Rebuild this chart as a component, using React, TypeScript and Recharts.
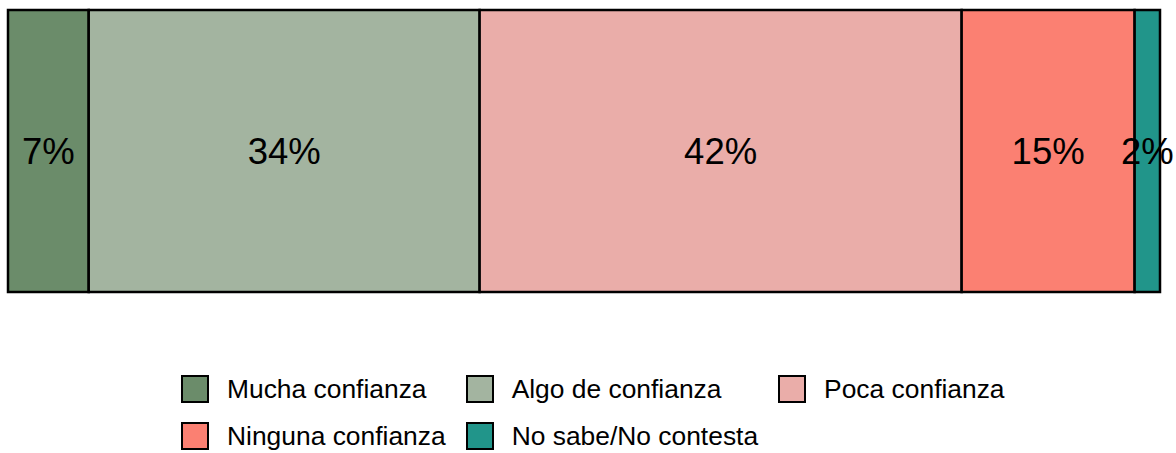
import { BarChart, Bar, XAxis, YAxis, LabelList } from "recharts";

const categories = [
  "Mucha confianza",
  "Algo de confianza",
  "Poca confianza",
  "Ninguna confianza",
  "No sabe/No contesta",
];
const values = [7.0, 33.9, 41.8, 15.0, 2.2];
const colors = ["#6b8c6a", "#a3b4a0", "#eaada9", "#fb8072", "#21958a"];

const total = values.reduce((s, v) => s + v, 0);

const chartData = [
  categories.reduce(
    (row, name, i) => ({ ...row, [name]: values[i] }),
    { name: "total" } as Record<string, string | number>
  ),
];

const FONT = "'Liberation Sans', Arial, sans-serif";

const LegendBox = () => (
  <div
    style={{
      position: "absolute",
      left: 181,
      top: 374,
      display: "grid",
      gridTemplateColumns: "auto auto auto",
      columnGap: 20,
      rowGap: 17,
      fontFamily: FONT,
      fontSize: 26.4,
      color: "#000",
    }}
  >
    {categories.map((name, i) => (
      <div key={name} style={{ display: "flex", alignItems: "center", height: 30 }}>
        <span
          style={{
            width: 24,
            height: 24,
            border: "2.5px solid #000",
            background: colors[i],
            marginRight: 18,
            flexShrink: 0,
          }}
        />
        <span style={{ whiteSpace: "nowrap", lineHeight: "30px" }}>{name}</span>
      </div>
    ))}
  </div>
);

const App = () => {
  return (
    <div style={{ position: "absolute", left: 0, top: 0, width: 1176, height: 453, background: "#fff" }}>
      <BarChart
        width={1176}
        height={300}
        data={chartData}
        layout="vertical"
        margin={{ top: 10, right: 16, bottom: 8, left: 8 }}
        barCategoryGap={0}
        style={{ overflow: "visible" }}
      >
        <XAxis type="number" domain={[0, total]} hide />
        <YAxis type="category" dataKey="name" hide />
        {categories.map((name, i) => (
          <Bar
            key={name}
            dataKey={name}
            stackId="a"
            fill={colors[i]}
            stroke="#000"
            strokeWidth={2.5}
            isAnimationActive={false}
          >
            <LabelList
              dataKey={name}
              position="center"
              formatter={(v: number) => `${Math.round(v)}%`}
              style={{ fontFamily: FONT, fontSize: 36.5, fill: "#000" }}
            />
          </Bar>
        ))}
      </BarChart>
      <LegendBox />
    </div>
  );
};

export default App;
